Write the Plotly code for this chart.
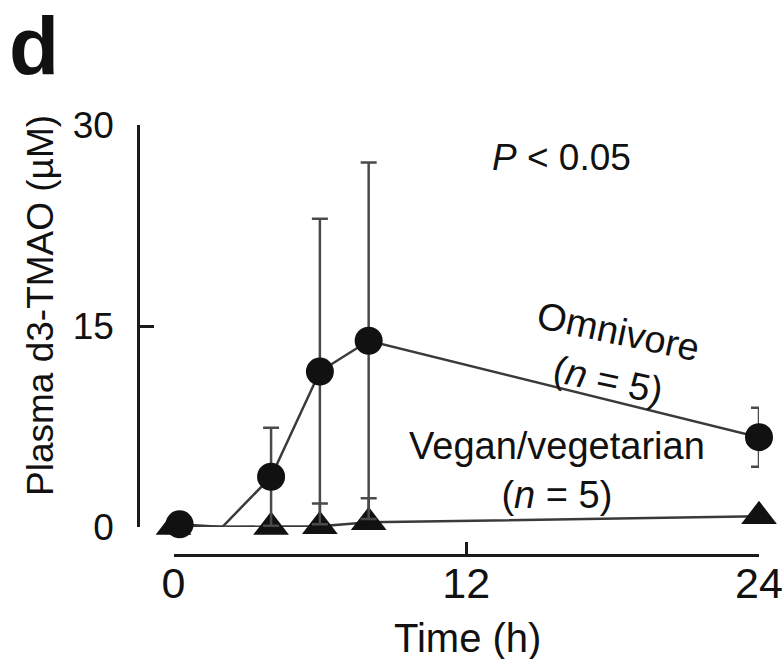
import plotly.graph_objects as go

# ---- data ----
omni_time = [0.25, 2, 4, 6, 8, 24]
omni_mean = [0.2, 0.0, 3.75, 11.6, 13.9, 6.7]
omni_err = [0.0, 0.0, 3.65, 11.4, 13.3, 2.2]
omni_show = [1, 0, 1, 1, 1, 1]

veg_time = [0, 4, 6, 8, 24]
veg_mean = [0.0, 0.0, 0.05, 0.35, 0.8]
veg_err = [0.0, 0.0, 1.7, 1.8, 0.0]

x_ticks = [0, 12, 24]
y_ticks = [0, 15, 30]

FONT = "Liberation Sans, Arial, Helvetica, sans-serif"
INK = "#111111"

W, H = 783, 659
ML, MR, MT, MB = 138, 24, 125, 104
x0_px, y0_px = 173.5, 527
pw, ph = W - ML - MR, H - MT - MB

fig = go.Figure()

fig.add_trace(go.Scatter(
    x=veg_time, y=veg_mean, mode="lines+markers",
    line=dict(color="#3a3a3a", width=2.5),
    marker=dict(symbol="triangle-up", size=31, color=INK, opacity=1),
    error_y=dict(type="data", array=veg_err, visible=True, color="#4a4a4a",
                 thickness=2.5, width=8),
    cliponaxis=False, showlegend=False,
))

fig.add_trace(go.Scatter(
    x=omni_time, y=omni_mean, mode="lines+markers",
    line=dict(color="#3a3a3a", width=2.5),
    marker=dict(symbol="circle", size=[28 * s for s in omni_show], color=INK,
                opacity=1, line=dict(width=0)),
    error_y=dict(type="data", array=omni_err, visible=True, color="#4a4a4a",
                 thickness=2.5, width=8),
    cliponaxis=False, showlegend=False,
))

fig.update_layout(
    width=W, height=H,
    margin=dict(l=ML, r=MR, t=MT, b=MB, pad=0, autoexpand=False),
    paper_bgcolor="white", plot_bgcolor="white",
    font=dict(family=FONT, color=INK),
    xaxis=dict(
        domain=[(x0_px - ML) / pw, 1], range=[0, 24],
        anchor="free", position=0, automargin=False,
        showline=True, linecolor="#1a1a1a", linewidth=2.5,
        ticks="inside", ticklen=12, tickwidth=2.5, tickcolor="#1a1a1a",
        tickvals=x_ticks, ticktext=[str(v) for v in x_ticks],
        tickfont=dict(size=43, family=FONT, color=INK),
        ticklabelstandoff=-10,
        showgrid=False, zeroline=False,
    ),
    yaxis=dict(
        domain=[(MT + ph - y0_px) / ph, 1], range=[0, 30],
        anchor="free", position=0, automargin=False,
        showline=True, linecolor="#1a1a1a", linewidth=2.5,
        ticks="inside", ticklen=14, tickwidth=2.5, tickcolor="#1a1a1a",
        tickvals=y_ticks, ticktext=[str(v) for v in y_ticks],
        tickfont=dict(size=37, family=FONT, color=INK),
        ticklabelstandoff=16,
        showgrid=False, zeroline=False,
    ),
)

annots = [
    dict(text="<b>d</b>", fx=34, fy=46, size=82),
    dict(text="Plasma d3-TMAO (µM)", fx=40, fy=306, size=37, angle=-90),
    dict(text="<i>P</i> &lt; 0.05", fx=561, fy=157, size=37),
    dict(text="Omnivore<br>(<i>n</i> = 5)", fx=613, fy=355, size=38, angle=12),
    dict(text="Vegan/vegetarian<br>(<i>n</i> = 5)", fx=557, fy=470, size=38),
    dict(text="Time (h)", fx=467, fy=638, size=40),
]
for a in annots:
    fig.add_annotation(
        text=a["text"],
        x=(a["fx"] - ML) / pw, y=1 - (a["fy"] - MT) / ph,
        xref="paper", yref="paper",
        xanchor="center", yanchor="middle", showarrow=False,
        textangle=a.get("angle", 0),
        font=dict(size=a["size"], family=FONT, color=INK),
    )

fig.write_html("out.html")
